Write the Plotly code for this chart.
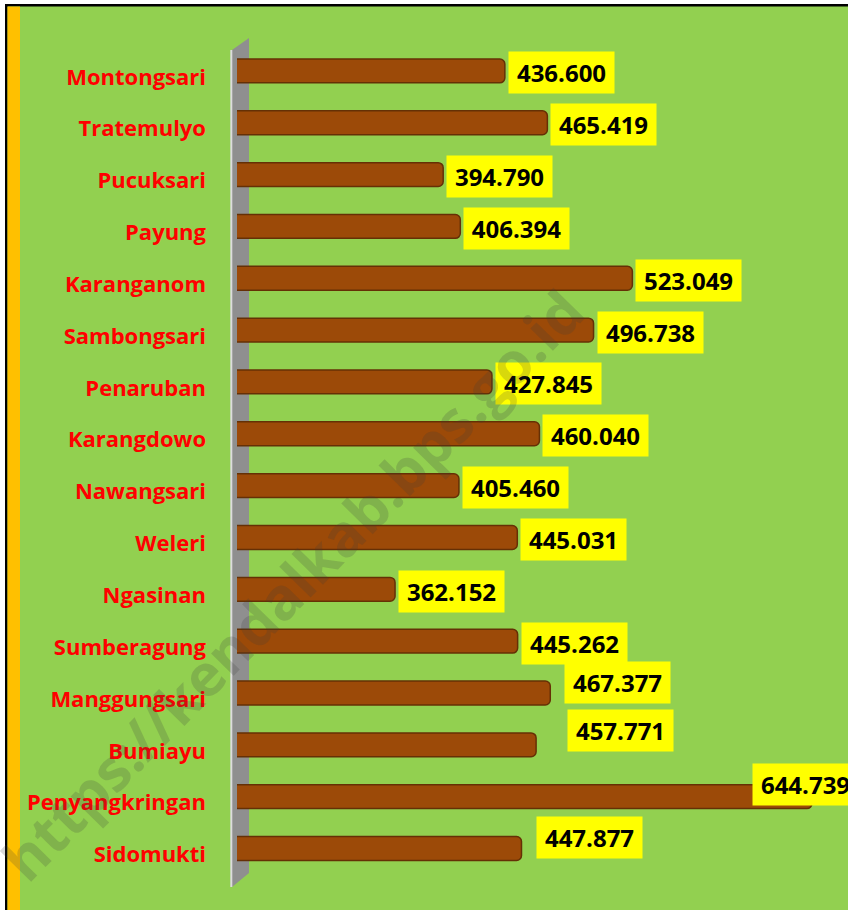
import plotly.graph_objects as go

categories = ["Montongsari", "Tratemulyo", "Pucuksari", "Payung", "Karanganom",
              "Sambongsari", "Penaruban", "Karangdowo", "Nawangsari", "Weleri",
              "Ngasinan", "Sumberagung", "Manggungsari", "Bumiayu",
              "Penyangkringan", "Sidomukti"]
values = [436600, 465419, 394790, 406394, 523049, 496738, 427845, 460040,
          405460, 445031, 362152, 445262, 467377, 457771, 644739, 447877]
value_labels = [f"{v:,}".replace(",", ".") for v in values]

# label placement tweaks (pixels), separate from data
label_xshift = [3, 3, 3, 3, 3, 3, 3, 3, 3, 3, 3, 3, 14, 31, -60, 15]
label_yshift = [-2, -2, -2, -2, -2, -2, -2, -2, -2, -2, -2, -2, 10, 14, 12, 11]

W, H = 848, 910
L, R, T, B = 237, 848, 45, 881


def px(x):
    return (x - L) / (R - L)


def py(y):
    return (B - y) / (B - T)


GREEN = "#92D050"
FONT = "Open Sans"

fig = go.Figure()
fig.add_trace(go.Bar(
    y=categories, x=values, orientation="h", width=0.46,
    marker=dict(color="#9C4A08", line=dict(color="#653005", width=1.5),
                cornerradius=5),
    hoverinfo="x+y",
))

annotations = []
for c, v, t, dx, dy in zip(categories, values, value_labels, label_xshift, label_yshift):
    annotations.append(dict(
        x=v, y=c, xref="x", yref="y", text=t, showarrow=False,
        xanchor="left", yanchor="middle", xshift=dx, yshift=dy,
        bgcolor="#FFFF00", borderpad=6, width=93, height=29,
        font=dict(family=FONT, size=24, color="black", weight="bold"),
    ))

annotations.append(dict(
    x=px(292), y=py(585), xref="paper", yref="paper",
    xanchor="center", yanchor="middle",
    text="https://kendalkab.bps.go.id", showarrow=False, textangle=-45.5,
    font=dict(family=FONT, size=58, color="rgba(60,60,60,0.2)", weight="bold"),
))

shapes = [
    dict(type="rect", xref="paper", yref="paper", x0=px(0), x1=px(W), y0=py(0), y1=py(4),
         fillcolor="white", line=dict(width=0), layer="below"),
    dict(type="rect", xref="paper", yref="paper", x0=px(0), x1=px(5), y0=py(0), y1=py(H),
         fillcolor="white", line=dict(width=0), layer="below"),
    dict(type="rect", xref="paper", yref="paper", x0=px(5), x1=px(W), y0=py(4), y1=py(6.5),
         fillcolor="black", line=dict(width=0), layer="below"),
    dict(type="rect", xref="paper", yref="paper", x0=px(5), x1=px(7.5), y0=py(4), y1=py(H),
         fillcolor="black", line=dict(width=0), layer="below"),
    dict(type="rect", xref="paper", yref="paper", x0=px(7.5), x1=px(20), y0=py(6.5), y1=py(H),
         fillcolor="#FFC000", line=dict(width=0), layer="below"),
    dict(type="path", xref="paper", yref="paper",
         path=(f"M {px(232)},{py(50)} L {px(249)},{py(38)} L {px(249)},{py(873)} "
               f"L {px(232)},{py(887)} Z"),
         fillcolor="#8F8F8F", line=dict(width=0), layer="below"),
    dict(type="rect", xref="paper", yref="paper", x0=px(230.3), x1=px(232.3),
         y0=py(887), y1=py(50), fillcolor="#DCDCDC", line=dict(width=0), layer="below"),
]

fig.update_layout(
    width=W, height=H,
    margin=dict(l=L, r=W - R, t=T, b=H - B, pad=0, autoexpand=False),
    paper_bgcolor=GREEN, plot_bgcolor="rgba(0,0,0,0)",
    showlegend=False, bargap=0.54,
    annotations=annotations, shapes=shapes,
    xaxis=dict(range=[255000, 255000 + (R - L) / 1.475 * 1000], visible=False,
               showgrid=False, zeroline=False, fixedrange=True, automargin=False),
    yaxis=dict(autorange="reversed", showgrid=False, zeroline=False, showline=False,
               automargin=False, fixedrange=True,
               ticks="", ticklabelstandoff=30, ticklabelshift=-6,
               tickfont=dict(family=FONT, size=22, color="#FF0000", weight="bold")),
)

fig.write_html("out.html", config={"displayModeBar": False},
               post_script="document.body.style.margin='0px';document.body.style.overflow='hidden';")
